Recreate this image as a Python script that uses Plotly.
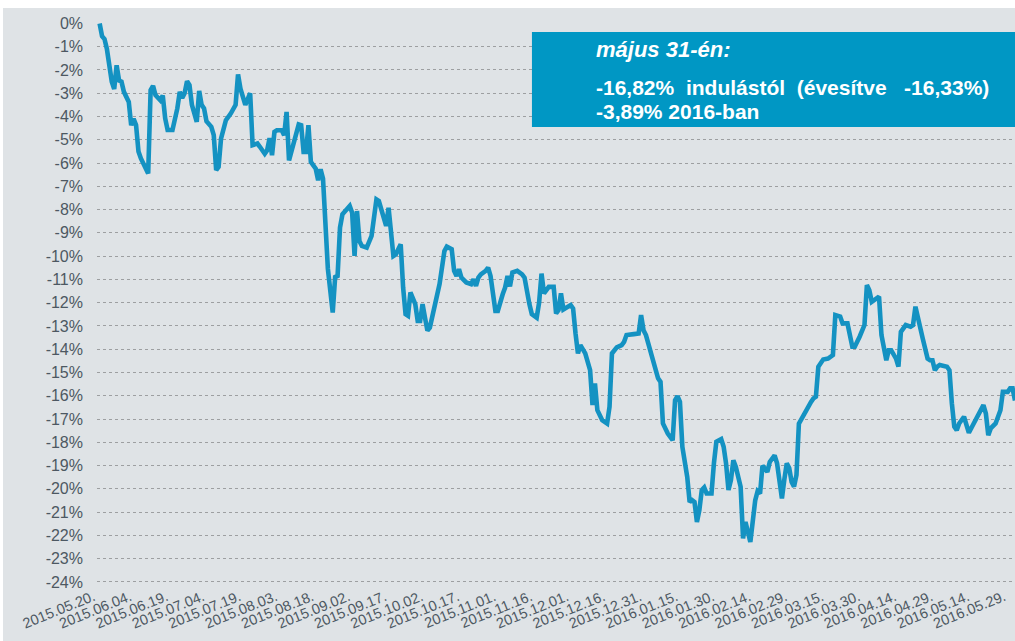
import plotly.graph_objects as go

dates = [
    "2015-05-20", "2015-05-21", "2015-05-22", "2015-05-23", "2015-05-24", "2015-05-25", "2015-05-26",
    "2015-05-27", "2015-05-28", "2015-05-29", "2015-05-30", "2015-06-01", "2015-06-02", "2015-06-03",
    "2015-06-04", "2015-06-05", "2015-06-06", "2015-06-07", "2015-06-09", "2015-06-10", "2015-06-11",
    "2015-06-12", "2015-06-14", "2015-06-15", "2015-06-16", "2015-06-17", "2015-06-19", "2015-06-21",
    "2015-06-22", "2015-06-23", "2015-06-24", "2015-06-25", "2015-06-26", "2015-06-27", "2015-06-29",
    "2015-06-30", "2015-07-01", "2015-07-02", "2015-07-03", "2015-07-05", "2015-07-06", "2015-07-07",
    "2015-07-08", "2015-07-09", "2015-07-11", "2015-07-13", "2015-07-15", "2015-07-16", "2015-07-17",
    "2015-07-19", "2015-07-21", "2015-07-22", "2015-07-24", "2015-07-25", "2015-07-27", "2015-07-28",
    "2015-07-29", "2015-07-30", "2015-07-31", "2015-08-01", "2015-08-03", "2015-08-04", "2015-08-05",
    "2015-08-06", "2015-08-08", "2015-08-10", "2015-08-11", "2015-08-12", "2015-08-13", "2015-08-14",
    "2015-08-15", "2015-08-17", "2015-08-18", "2015-08-19", "2015-08-20", "2015-08-21", "2015-08-22",
    "2015-08-24", "2015-08-25", "2015-08-26", "2015-08-27", "2015-08-28", "2015-08-31", "2015-09-01",
    "2015-09-02", "2015-09-03", "2015-09-04", "2015-09-05", "2015-09-07", "2015-09-09", "2015-09-11",
    "2015-09-12", "2015-09-14", "2015-09-15", "2015-09-16", "2015-09-18", "2015-09-19", "2015-09-21",
    "2015-09-22", "2015-09-23", "2015-09-24", "2015-09-25", "2015-09-27", "2015-09-28", "2015-09-29",
    "2015-09-30", "2015-10-01", "2015-10-02", "2015-10-03", "2015-10-05", "2015-10-07", "2015-10-09",
    "2015-10-10", "2015-10-12", "2015-10-13", "2015-10-14", "2015-10-15", "2015-10-16", "2015-10-18",
    "2015-10-20", "2015-10-21", "2015-10-22", "2015-10-23", "2015-10-24", "2015-10-26", "2015-10-27",
    "2015-10-28", "2015-10-30", "2015-10-31", "2015-11-02", "2015-11-03", "2015-11-04", "2015-11-05",
    "2015-11-06", "2015-11-08", "2015-11-10", "2015-11-11", "2015-11-13", "2015-11-14", "2015-11-16",
    "2015-11-17", "2015-11-18", "2015-11-19", "2015-11-21", "2015-11-23", "2015-11-24", "2015-11-25",
    "2015-11-26", "2015-11-27", "2015-11-30", "2015-12-01", "2015-12-02", "2015-12-03", "2015-12-04",
    "2015-12-06", "2015-12-08", "2015-12-09", "2015-12-10", "2015-12-11", "2015-12-13", "2015-12-15",
    "2015-12-16", "2015-12-17", "2015-12-19", "2015-12-21", "2015-12-22", "2015-12-23", "2015-12-26",
    "2015-12-28", "2015-12-29", "2015-12-30", "2015-12-31", "2016-01-02", "2016-01-04", "2016-01-05",
    "2016-01-06", "2016-01-07", "2016-01-09", "2016-01-11", "2016-01-12", "2016-01-13", "2016-01-14",
    "2016-01-15", "2016-01-17", "2016-01-18", "2016-01-19", "2016-01-20", "2016-01-21", "2016-01-22",
    "2016-01-23", "2016-01-24", "2016-01-25", "2016-01-27", "2016-01-28", "2016-01-29", "2016-01-31",
    "2016-02-01", "2016-02-02", "2016-02-03", "2016-02-04", "2016-02-05", "2016-02-06", "2016-02-08",
    "2016-02-09", "2016-02-10", "2016-02-12", "2016-02-13", "2016-02-14", "2016-02-15", "2016-02-16",
    "2016-02-17", "2016-02-19", "2016-02-20", "2016-02-22", "2016-02-23", "2016-02-25", "2016-02-26",
    "2016-02-27", "2016-02-28", "2016-02-29", "2016-03-01", "2016-03-02", "2016-03-03", "2016-03-05",
    "2016-03-07", "2016-03-08", "2016-03-09", "2016-03-10", "2016-03-11", "2016-03-13", "2016-03-15",
    "2016-03-17", "2016-03-18", "2016-03-20", "2016-03-21", "2016-03-23", "2016-03-25", "2016-03-26",
    "2016-03-28", "2016-03-30", "2016-03-31", "2016-04-01", "2016-04-02", "2016-04-04", "2016-04-05",
    "2016-04-06", "2016-04-07", "2016-04-08", "2016-04-09", "2016-04-10", "2016-04-12", "2016-04-13",
    "2016-04-14", "2016-04-16", "2016-04-18", "2016-04-19", "2016-04-20", "2016-04-21", "2016-04-23",
    "2016-04-25", "2016-04-26", "2016-04-27", "2016-04-28", "2016-04-29", "2016-04-30", "2016-05-03",
    "2016-05-04", "2016-05-05", "2016-05-06", "2016-05-07", "2016-05-08", "2016-05-10", "2016-05-11",
    "2016-05-12", "2016-05-14", "2016-05-16", "2016-05-18", "2016-05-19", "2016-05-20", "2016-05-21",
    "2016-05-23", "2016-05-25", "2016-05-26", "2016-05-28", "2016-05-29", "2016-05-30", "2016-05-31",
]

returns_pct = [
    0.0, -0.55, -0.67, -1.1, -1.8, -2.5, -2.82,
    -1.8, -2.45, -2.5, -2.94, -3.37, -4.37, -4.1,
    -4.37, -5.5, -5.8, -6.0, -6.45, -2.87, -2.68,
    -3.08, -3.3, -3.1, -4.08, -4.58, -4.58, -3.65,
    -2.94, -3.2, -3.0, -2.48, -2.65, -3.5, -4.23,
    -2.9, -3.5, -3.65, -4.2, -4.44, -4.8, -6.3,
    -6.16, -4.95, -4.16, -3.87, -3.5, -2.19, -2.8,
    -3.5, -3.0, -5.23, -5.16, -5.3, -5.6, -5.45,
    -4.93, -5.66, -4.66, -4.59, -4.59, -4.8, -3.8,
    -5.88, -5.09, -4.34, -4.37, -5.52, -5.52, -4.37,
    -5.95, -6.24, -6.74, -6.27, -6.67, -9.0, -10.54,
    -12.42, -10.9, -10.85, -8.77, -8.2, -7.84, -8.13,
    -9.99, -8.06, -9.35, -9.56, -9.63, -9.13, -7.56,
    -7.63, -8.27, -8.7, -7.92, -9.99, -9.92, -9.49,
    -11.35, -12.49, -12.56, -11.56, -12.06, -12.78, -12.78,
    -12.06, -12.64, -13.2, -13.07, -12.06, -11.2, -9.78,
    -9.59, -9.7, -10.63, -10.85, -10.56, -10.92, -11.13,
    -11.2, -10.99, -11.28, -10.92, -10.78, -10.63, -10.49,
    -10.85, -12.35, -12.35, -11.64, -11.35, -10.85, -11.3,
    -10.7, -10.63, -10.78, -10.92, -12.06, -12.49, -12.64,
    -12.0, -10.75, -11.6, -11.32, -11.32, -12.46, -12.32,
    -11.6, -12.29, -12.1, -12.25, -13.32, -14.18, -13.82,
    -14.18, -14.9, -16.4, -15.47, -16.62, -17.05, -17.19,
    -16.47, -14.18, -13.92, -13.82, -13.68, -13.39, -13.35,
    -13.32, -12.53, -13.18, -13.39, -14.18, -14.9, -15.25,
    -15.4, -17.19, -17.62, -17.91, -16.19, -16.01, -16.26,
    -18.19, -19.48, -20.56, -20.48, -20.56, -21.42, -20.91,
    -20.05, -19.94, -20.2, -20.2, -18.9, -17.97, -17.86,
    -18.19, -18.91, -20.05, -19.62, -18.77, -19.05, -19.91,
    -22.13, -21.42, -22.28, -21.49, -20.5, -20.1, -20.2,
    -19.0, -19.27, -18.84, -18.56, -18.9, -20.41, -19.6,
    -18.9, -19.1, -19.7, -19.9, -19.4, -17.2, -16.8,
    -16.5, -16.26, -16.11, -16.04, -14.75, -14.44, -14.4,
    -14.25, -12.53, -12.6, -12.89, -12.89, -13.89, -13.89,
    -13.46, -12.96, -11.24, -11.46, -11.96, -11.82, -11.74,
    -13.39, -13.97, -14.47, -14.04, -14.04, -14.4, -14.75,
    -13.25, -12.96, -13.03, -12.96, -12.17, -12.68, -13.54,
    -14.4, -14.47, -14.47, -14.9, -14.75, -14.68, -14.75,
    -14.9, -16.33, -17.33, -17.48, -17.19, -16.9, -17.19,
    -17.59, -17.19, -16.76, -16.4, -16.76, -17.69, -17.4,
    -17.19, -16.62, -15.83, -15.83, -15.68, -15.68, -16.2,
]

y_tick_values = [0, -1, -2, -3, -4, -5, -6, -7, -8, -9, -10, -11, -12,
                 -13, -14, -15, -16, -17, -18, -19, -20, -21, -22, -23, -24]
y_tick_labels = ["0%", "-1%", "-2%", "-3%", "-4%", "-5%", "-6%", "-7%", "-8%",
                 "-9%", "-10%", "-11%", "-12%", "-13%", "-14%", "-15%", "-16%",
                 "-17%", "-18%", "-19%", "-20%", "-21%", "-22%", "-23%", "-24%"]
grid_values = y_tick_values[1:]

SP = "\u00a0 "
box_title = "<b><i>május 31-én:</i></b>"
box_line1 = "<b>-16,82%" + SP + "indulástól" + SP + "(évesítve" + SP + "\u00a0-16,33%)</b>"
box_line2 = "<b>-3,89% 2016-ban</b>"

BG = "#dfe3e6"
LINE = "#1492c2"
BOX = "#0097c4"
TXT = "#4d5862"
FONT = "Liberation Sans, Arial, sans-serif"

fig = go.Figure()
fig.add_trace(go.Scatter(x=dates, y=returns_pct, mode="lines",
                         line=dict(color=LINE, width=4.6), hoverinfo="skip",
                         showlegend=False))
# invisible trace on second y axis carrying the dotted gridlines
fig.add_trace(go.Scatter(x=[dates[0]], y=[0], yaxis="y2", mode="markers",
                         marker=dict(opacity=0), showlegend=False, hoverinfo="skip"))

yr = [-24.13, 0.32]
fig.update_layout(
    width=1015, height=641,
    margin=dict(l=97, r=0, t=16, b=56),
    paper_bgcolor=BG, plot_bgcolor=BG,
    font=dict(family=FONT, color=TXT),
    xaxis=dict(
        type="date",
        range=["2015-05-18 22:00", "2016-05-31"],
        tick0="2015-05-20", dtick=15 * 86400000,
        tickformat="%Y.%m.%d.",
        tickangle=-22,
        tickfont=dict(size=14.5, color=TXT),
        ticklabelshift=-6,
        showgrid=False, zeroline=False, showline=False,
        ticks="",
    ),
    yaxis=dict(
        range=yr,
        tickvals=y_tick_values, ticktext=y_tick_labels,
        tickfont=dict(size=16, color=TXT),
        showgrid=False, zeroline=False, showline=False,
        ticks="", ticklabelstandoff=13,
    ),
    yaxis2=dict(
        range=yr, overlaying="y", side="left",
        tickvals=grid_values, showticklabels=False,
        showgrid=True, gridcolor="#9d9fa1", griddash="dot", gridwidth=1,
        zeroline=False, showline=False, ticks="",
    ),
    shapes=[
        dict(type="rect", xref="paper", yref="paper", x0=-0.2, x1=1.1,
             y0=1.01406, y1=1.1, fillcolor="white", line=dict(width=0), layer="below"),
        dict(type="rect", xref="paper", yref="paper", x0=-0.2, x1=-0.1024,
             y0=-0.2, y1=1.1, fillcolor="white", line=dict(width=0), layer="below"),
        dict(type="rect", xref="paper", yref="paper", x0=0.4738, x1=1.0,
             y0=0.8049, y1=0.9719, fillcolor=BOX, line=dict(width=0), layer="above"),
    ],
    annotations=[
        dict(text=box_title, xref="paper", yref="paper", x=0.5414, y=0.942,
             xanchor="left", yanchor="middle", showarrow=False,
             font=dict(size=22, color="white", family=FONT)),
        dict(text=box_line1, xref="paper", yref="paper", x=0.5414, y=0.8735,
             xanchor="left", yanchor="middle", showarrow=False,
             font=dict(size=21, color="white", family=FONT)),
        dict(text=box_line2, xref="paper", yref="paper", x=0.5414, y=0.8313,
             xanchor="left", yanchor="middle", showarrow=False,
             font=dict(size=21, color="white", family=FONT)),
    ],
)

fig.write_html("out.html", config={"displayModeBar": False},
               post_script="document.body.style.margin='0';")
